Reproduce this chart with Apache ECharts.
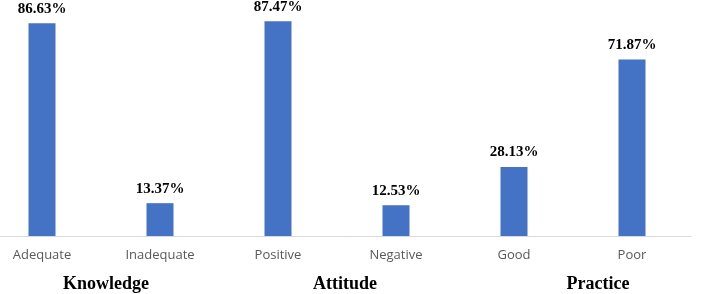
<!DOCTYPE html>
<html>
<head>
<meta charset="utf-8">
<script src="https://cdn.jsdelivr.net/npm/echarts@6/dist/echarts.min.js"></script>
<style>
  html, body { margin: 0; padding: 0; background: #fff; }
  #main { width: 708px; height: 294px; }
</style>
</head>
<body>
<div id="main"></div>
<script>
// 数据
const categories = ['Adequate', 'Inadequate', 'Positive', 'Negative', 'Good', 'Poor'];
const values = [86.63, 13.37, 87.47, 12.53, 28.13, 71.87];
const groups = ['Knowledge', 'Attitude', 'Practice'];

const myChart = echarts.init(document.getElementById('main'));

// group labels sit a bit off the group centre in the original
const groupShift = [10, 16, 50];

const option = {
  animation: false,
  grid: {
    left: -17,
    right: 17,
    top: -9.5,
    bottom: 58,
    containLabel: false,
    outerBoundsMode: 'none',
  },
  xAxis: [
    {
      type: 'category',
      data: categories,
      axisLine: { show: true, lineStyle: { color: '#d9d9d9', width: 1 } },
      axisTick: { show: false },
      axisLabel: {
        color: '#595959',
        fontFamily: 'Open Sans',
        fontSize: 13,
        margin: 13,
      },
    },
    {
      type: 'category',
      position: 'bottom',
      data: groups.map((g, i) => ({
        value: g,
        textStyle: { padding: [0, 0, 0, groupShift[i]] },
      })),
      axisLine: { show: false },
      axisTick: { show: false },
      axisLabel: {
        color: '#000',
        fontFamily: 'Liberation Serif',
        fontWeight: 'bold',
        fontSize: 18,
        margin: 39,
      },
    },
  ],
  yAxis: {
    type: 'value',
    min: 0,
    max: 100,
    show: false,
    splitLine: { show: false },
  },
  series: [
    {
      type: 'bar',
      data: values,
      barWidth: 27,
      clip: false,
      itemStyle: { color: '#4472c4' },
      label: {
        show: true,
        position: 'top',
        distance: 7,
        formatter: p => p.value.toFixed(2) + '%',
        color: '#000',
        fontFamily: 'Liberation Serif',
        fontWeight: 'bold',
        fontSize: 15,
      },
    },
  ],
};

myChart.setOption(option);
</script>
</body>
</html>
